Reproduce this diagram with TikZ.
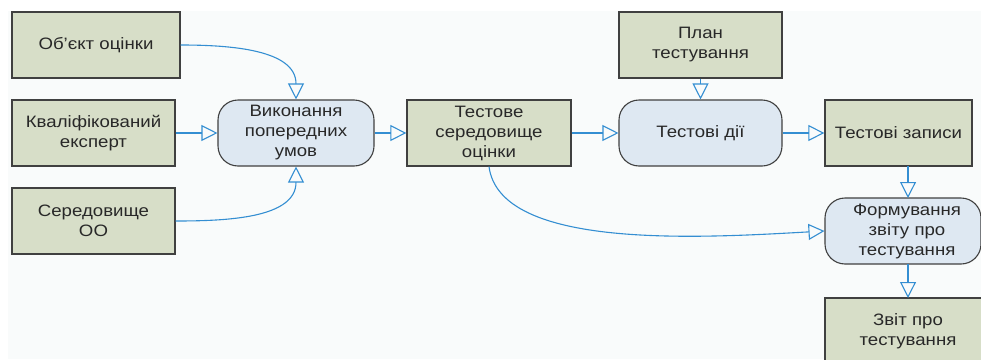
\documentclass[tikz,border=0pt]{standalone}
\usepackage{fontspec}
\setmainfont{Liberation Sans}[FakeStretch=1.13]
\usetikzlibrary{arrows.meta}
\definecolor{boxfill}{RGB}{215,222,200}
\definecolor{procfill}{RGB}{222,232,242}
\definecolor{linkblue}{RGB}{52,142,210}
\definecolor{bordergray}{RGB}{64,64,64}
\definecolor{bgpale}{RGB}{249,251,251}
\definecolor{textgray}{RGB}{40,40,40}
\begin{document}
\begin{tikzpicture}[x=1pt,y=-1pt,
  every node/.style={font=\fontsize{16.5}{20}\selectfont, text=textgray, align=center, inner sep=0pt},
  databox/.style={rectangle, draw=bordergray, line width=1.3pt, fill=boxfill, minimum height=66pt},
  procbox/.style={rectangle, rounded corners=20pt, draw=bordergray, line width=1.1pt, fill=procfill, minimum height=66pt},
  link/.style={draw=linkblue, line width=1.1pt, -{Triangle[open, length=16pt, width=16pt]}}
]
\useasboundingbox (0,0) rectangle (981,359);
\clip (0,0) rectangle (981,359);
\fill[bgpale] (8,11) rectangle (981,359);

\node[databox, minimum width=168pt] (o1) at (96,45) {Об'єкт оцінки};
\node[databox, minimum width=163pt] (o2) at (93.5,133) {Кваліфікований\\експерт};
\node[databox, minimum width=163pt] (o3) at (93.5,221) {Середовище\\ОО};
\node[procbox, minimum width=156pt] (v) at (296,133) {Виконання\\попередних\\умов};
\node[databox, minimum width=164pt] (t) at (489,133) {Тестове\\середовище\\оцінки};
\node[databox, minimum width=163pt] (p) at (700.5,45) {План\\тестування};
\node[procbox, minimum width=163pt] (d) at (700.5,133) {Тестові дії};
\node[databox, minimum width=147pt] (z) at (898.5,133) {Тестові записи};
\node[procbox, minimum width=156pt] (f) at (903,231) {\hspace*{8pt}Формування\\\hspace*{8pt}звіту про\\\hspace*{8pt}тестування};
\node[databox, minimum width=166pt] (r) at (908,331) {Звіт про\\тестування};

\coordinate (zb) at (908,166);
\coordinate (ft) at (908,198);
\coordinate (fb) at (908,264);
\coordinate (rt) at (908,298);

\draw[link] (o1.east) to[out=0, in=90, looseness=1.0] (v.north);
\draw[link] (o2.east) -- (v.west);
\draw[link] (o3.east) to[out=0, in=-90, looseness=1.0] (v.south);
\draw[link] (v.east) -- (t.west);
\draw[link] (t.east) -- (d.west);
\draw[link] (p.south) -- (d.north);
\draw[link] (d.east) -- (z.west);
\draw[link] (zb) -- (ft);
\draw[link] (fb) -- (rt);
\draw[link] (t.south) .. controls (500,250) and (700,238) .. (f.west);
\end{tikzpicture}
\end{document}
